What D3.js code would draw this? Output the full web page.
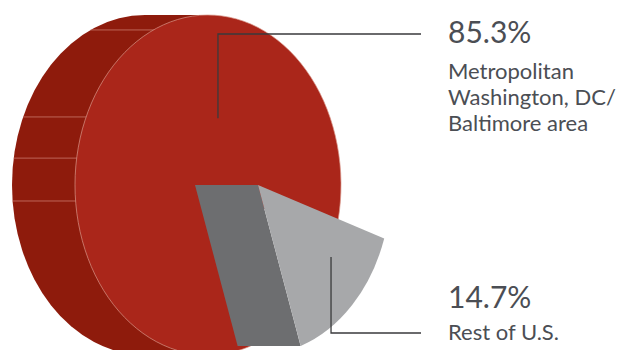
<!DOCTYPE html>
<html>
<head>
<meta charset="utf-8">
<script src="https://cdn.jsdelivr.net/npm/d3@7"></script>
<style>
  html, body { margin: 0; padding: 0; background: #fff; }
  svg { display: block; }
  .pct { font-family: Lato, "Open Sans", sans-serif; font-size: 30px; fill: #4b4e54; }
  .name { font-family: Lato, "Open Sans", sans-serif; font-size: 22px; fill: #4b4e54; }
</style>
</head>
<body>
<svg id="chart" width="617" height="350"></svg>
<script>
// Share of people by location
const regions = ["Metropolitan Washington, DC/Baltimore area", "Rest of U.S."];
const shares = [85.3, 14.7];
const valueLabels = ["85.3%", "14.7%"];
const nameLines = [["Metropolitan", "Washington, DC/", "Baltimore area"], ["Rest of U.S."]];

const svg = d3.select("#chart");
const deg = Math.PI / 180;

// Disc geometry: face ellipse, extrusion toward the left
const cx = 208, cy = 185, rx = 133, ry = 170, depth = 63;
const explode = { dx: 50, dy: 0 };          // the small slice is pulled forward
const faceColors = ["#aa261a", "#a7a8aa"];
const sideColors = ["#8e1b0c", "#6d6e70"];

// The big slice starts where the small one ends
const startA = 161.3 * deg;
const pie = d3.pie().sort(null).value(d => d)
  .startAngle(startA).endAngle(startA + 2 * Math.PI);
const arcs = pie(shares);

const arcUnit = d3.arc().innerRadius(0).outerRadius(1);
const pt = (ox, oy, a, r = 1) => [ox + rx * r * Math.sin(a), oy - ry * r * Math.cos(a)];

// --- big slice: cylinder side ---
const side = d3.path();
side.moveTo(cx - depth, cy - ry);
side.lineTo(cx, cy - ry);
side.lineTo(cx, cy + ry);
side.lineTo(cx - depth, cy + ry);
svg.append("path")
  .attr("d", side.toString() + ` A ${rx} ${ry} 0 0 1 ${cx - depth} ${cy - ry} Z`)
  .attr("fill", sideColors[0]);

// facet seams running across the side
const seamAngles = [335.8, 293.6, 279.1, 264.6];
svg.append("g").selectAll("line").data(seamAngles).join("line")
  .attr("x1", a => pt(cx, cy, a * deg)[0] - depth)
  .attr("x2", a => pt(cx, cy, a * deg)[0] + 1)
  .attr("y1", a => pt(cx, cy, a * deg)[1])
  .attr("y2", a => pt(cx, cy, a * deg)[1])
  .attr("stroke", "#c9786c").attr("stroke-width", 0.8);

// --- big slice: face ---
const faceG = svg.append("g").attr("transform", `translate(${cx},${cy}) scale(${rx},${ry})`);
faceG.append("path").attr("d", arcUnit(arcs[0])).attr("fill", faceColors[0]);
const rim = d3.path();
rim.arc(0, 0, 1, arcs[0].startAngle - Math.PI / 2, arcs[0].endAngle - Math.PI / 2);
faceG.append("path").attr("d", rim.toString())
  .attr("fill", "none").attr("stroke", "#d9968a").attr("stroke-width", 0.7)
  .attr("vector-effect", "non-scaling-stroke");

// --- small slice: pulled forward ---
const gx = cx + explode.dx, gy = cy + explode.dy;
const edge = pt(gx, gy, arcs[1].endAngle);
svg.append("path")
  .attr("d", d3.line()([[gx - depth, gy], [gx, gy], edge, [edge[0] - depth, edge[1]]]) + "Z")
  .attr("fill", sideColors[1]);
svg.append("g").attr("transform", `translate(${gx},${gy}) scale(${rx},${ry})`)
  .append("path").attr("d", arcUnit(arcs[1])).attr("fill", faceColors[1]);

// --- callouts ---
const labelX = 448, lineEndX = 421;
const callouts = [
  { anchor: pt(cx, cy, 10.8 * deg, 0.4), y: 34, pctBase: 43, nameBase: 79 },
  { anchor: pt(gx, gy, 127.6 * deg, 0.693), y: 333, pctBase: 308, nameBase: 340 }
];
callouts.forEach((c, i) => {
  svg.append("path")
    .attr("d", d3.line()([c.anchor, [c.anchor[0], c.y], [lineEndX, c.y]]))
    .attr("fill", "none").attr("stroke", "#3a3a3c").attr("stroke-width", 1.3);
  svg.append("text").attr("class", "pct")
    .attr("x", labelX).attr("y", c.pctBase).text(valueLabels[i]);
  svg.append("text").attr("class", "name")
    .selectAll("tspan").data(nameLines[i]).join("tspan")
    .attr("x", labelX).attr("y", (d, j) => c.nameBase + j * 26).text(d => d);
});
</script>
</body>
</html>
